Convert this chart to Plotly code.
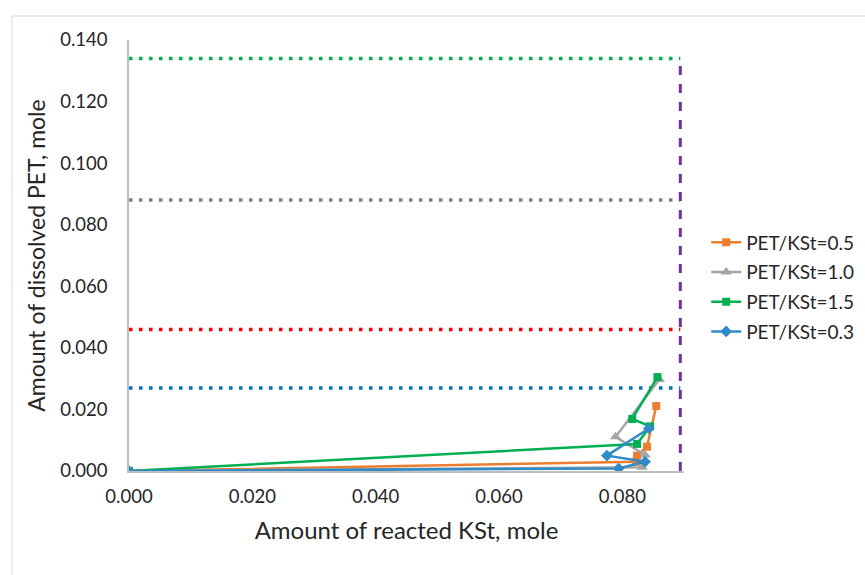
import plotly.graph_objects as go

# Reacted KSt (x) vs dissolved PET (y), one series per PET/KSt ratio
series_names = ["PET/KSt=0.5", "PET/KSt=1.0", "PET/KSt=1.5", "PET/KSt=0.3"]
x_05 = [0.0, 0.0822, 0.0824, 0.0840, 0.0855]
y_05 = [0.0, 0.0030, 0.0050, 0.0079, 0.0211]
x_10 = [0.0, 0.0832, 0.0837, 0.0789, 0.0860]
y_10 = [0.0, 0.0012, 0.0052, 0.0111, 0.0297]
x_15 = [0.0, 0.0824, 0.0845, 0.0816, 0.0857]
y_15 = [0.0, 0.0088, 0.0145, 0.0169, 0.0305]
x_03 = [0.0, 0.0794, 0.0837, 0.0775, 0.0843]
y_03 = [0.0, 0.0008, 0.0030, 0.0050, 0.0138]

# Theoretical limits: total PET for each ratio and total KSt
pet_limits = [0.134, 0.088, 0.046, 0.027]
pet_limit_colors = ["#00B050", "#7F7F7F", "#FF0000", "#0070C0"]
kst_total = 0.0894

x_ticks = [0.0, 0.02, 0.04, 0.06, 0.08]
y_ticks = [0.0, 0.02, 0.04, 0.06, 0.08, 0.10, 0.12, 0.14]

FONT = "Lato"
TXT = "#262626"
fig = go.Figure()

for lim, col in zip(pet_limits, pet_limit_colors):
    fig.add_trace(go.Scatter(
        x=[0.0, kst_total], y=[lim, lim], mode="lines",
        line=dict(color=col, width=3.5, dash="3.5px,6.5px"),
        showlegend=False, hoverinfo="skip"))

fig.add_trace(go.Scatter(
    x=[kst_total, kst_total], y=[0.0, pet_limits[0]], mode="lines",
    line=dict(color="#7030A0", width=3, dash="9px,9px"),
    showlegend=False, hoverinfo="skip"))

styles = [
    (x_05, y_05, "#ED7D31", "square", 8),
    (x_10, y_10, "#A5A5A5", "triangle-up", 10),
    (x_15, y_15, "#00B050", "square", 8),
    (x_03, y_03, "#2E8BC8", "diamond", 9),
]
for name, (xs, ys, col, sym, ms) in zip(series_names, styles):
    fig.add_trace(go.Scatter(
        x=xs, y=ys, mode="lines+markers", name=name,
        line=dict(color=col, width=2.5),
        marker=dict(symbol=sym, size=ms, color=col),
        legendgroup=name))

L, R, T, B = 129, 865 - 683.6, 40, 575 - 471
pw, ph = 865 - L - R, 575 - T - B
bx = (12 - L) / pw
by = (471 - 16) / ph

fig.update_layout(
    width=865, height=575,
    margin=dict(l=L, r=R, t=T, b=B, pad=0, autoexpand=False),
    paper_bgcolor="white", plot_bgcolor="white",
    font=dict(family=FONT, color=TXT),
    xaxis=dict(range=[0, 0.09], tickvals=x_ticks, tickformat=".3f",
               showgrid=False, zeroline=False, showline=True,
               linecolor="#BFBFBF", linewidth=1.5,
               ticks="outside", ticklen=8, tickcolor="rgba(0,0,0,0)",
               tickfont=dict(size=18.5, family=FONT, color=TXT),
               title=dict(text="Amount of reacted KSt, mole",
                          font=dict(size=24, family=FONT, color=TXT),
                          standoff=16)),
    yaxis=dict(range=[0, 0.14], tickvals=y_ticks, tickformat=".3f",
               showgrid=False, zeroline=False, showline=True,
               linecolor="#BFBFBF", linewidth=1.5,
               ticks="outside", ticklen=16, tickcolor="rgba(0,0,0,0)",
               tickfont=dict(size=18.5, family=FONT, color=TXT),
               title=dict(text="Amount of dissolved PET, mole",
                          font=dict(size=23, family=FONT, color=TXT),
                          standoff=8)),
    legend=dict(x=1.04, y=0.427, xanchor="left", yanchor="middle",
                font=dict(size=19, family=FONT, color=TXT),
                tracegroupgap=2, bgcolor="rgba(0,0,0,0)"),
    shapes=[
        dict(type="line", xref="paper", yref="paper", x0=bx, x1=bx,
             y0=-0.5, y1=by, line=dict(color="#D9D9D9", width=1)),
        dict(type="line", xref="paper", yref="paper", x0=bx, x1=1.6,
             y0=by, y1=by, line=dict(color="#D9D9D9", width=1)),
    ],
)

fig.write_html("out.html")
